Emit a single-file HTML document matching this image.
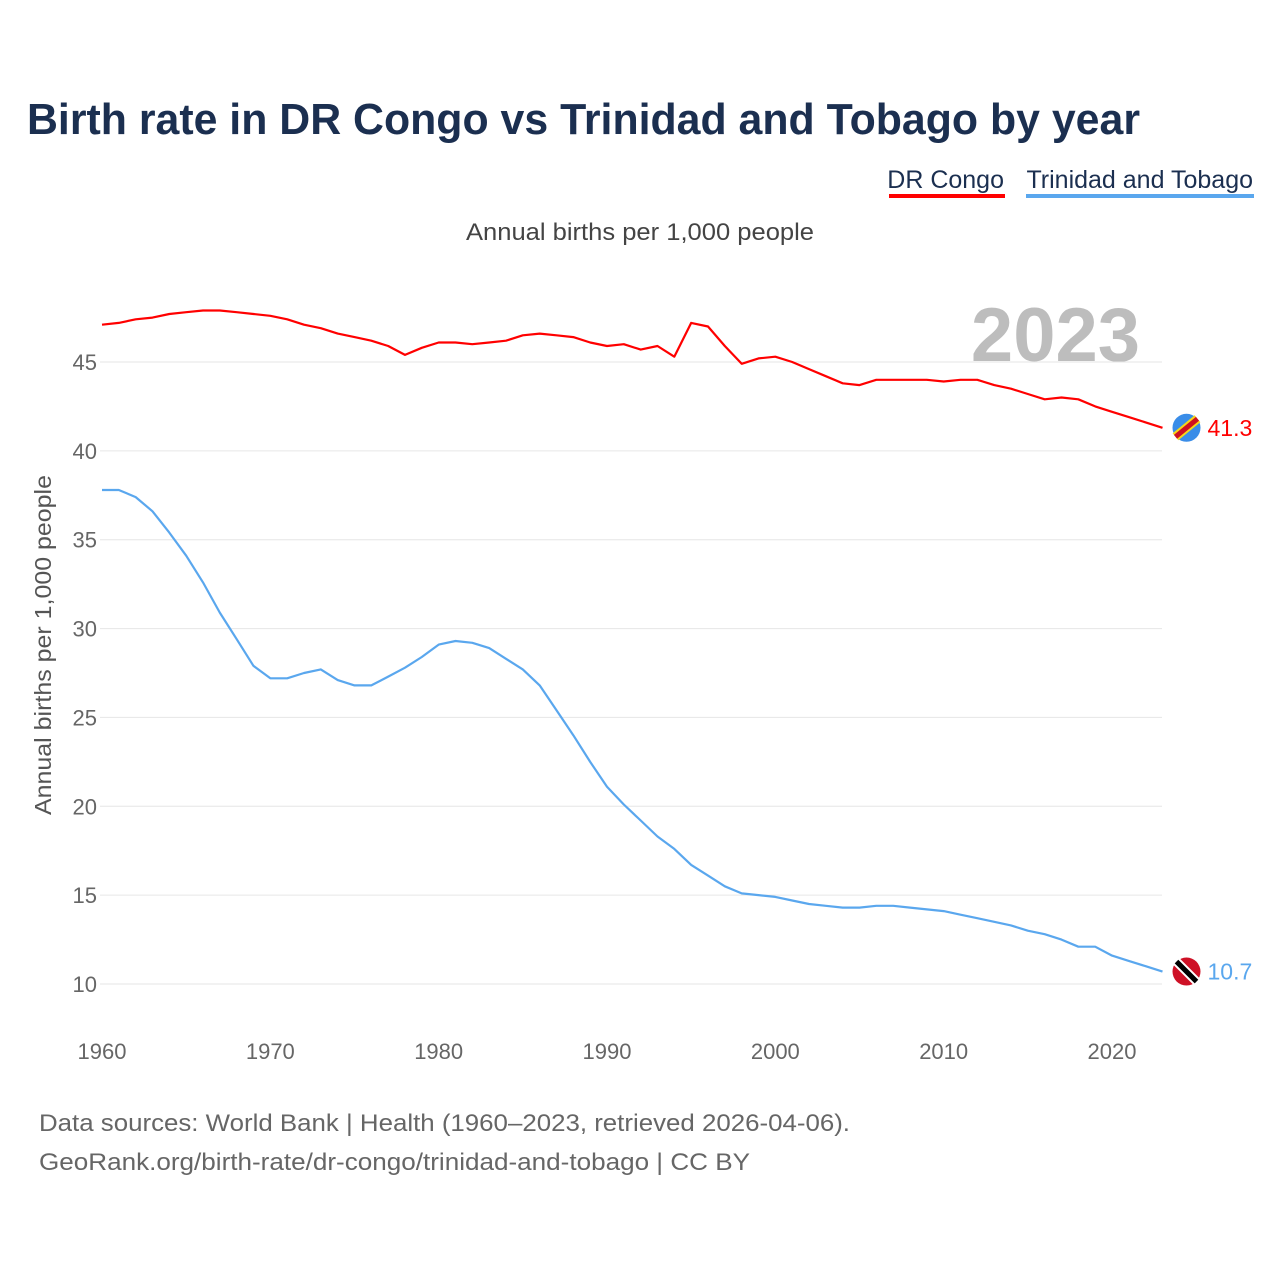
<!DOCTYPE html>
<html><head><meta charset="utf-8">
<style>
body{margin:0;background:#fff;font-family:"Liberation Sans",sans-serif;}
#wrap{position:relative;width:1280px;height:1280px;overflow:hidden;}
svg text{font-family:"Liberation Sans",sans-serif;}
</style></head>
<body>
<div id="wrap">
<svg id="chart" width="1280" height="1280">
  <text x="27" y="134" font-size="44" font-weight="bold" fill="#1b2f50" textLength="1113" lengthAdjust="spacingAndGlyphs">Birth rate in DR Congo vs Trinidad and Tobago by year</text>
  <g>
    <text x="1004" y="188" font-size="25" fill="#1b2f50" text-anchor="end">DR Congo</text>
    <rect x="889" y="194" width="116" height="4" fill="#ff0000"/>
  </g>
  <g>
    <text x="1253" y="188" font-size="25" fill="#1b2f50" text-anchor="end">Trinidad and Tobago</text>
    <rect x="1026" y="194" width="228" height="4" fill="#5aa7ee"/>
  </g>
  <text x="466" y="240" font-size="24" fill="#444" textLength="348" lengthAdjust="spacingAndGlyphs">Annual births per 1,000 people</text>
  <text x="1140" y="361" font-size="76" font-weight="bold" fill="#bdbdbd" text-anchor="end">2023</text>
  <text transform="translate(51,815) rotate(-90)" font-size="23" fill="#555" textLength="340" lengthAdjust="spacingAndGlyphs">Annual births per 1,000 people</text>
  <g id="grid"></g><g id="xticks"></g><g id="series"></g>
  <text x="39" y="1131" font-size="24" fill="#666" textLength="811" lengthAdjust="spacingAndGlyphs">Data sources: World Bank | Health (1960–2023, retrieved 2026-04-06).</text>
  <text x="39" y="1170" font-size="24" fill="#666" textLength="711" lengthAdjust="spacingAndGlyphs">GeoRank.org/birth-rate/dr-congo/trinidad-and-tobago | CC BY</text>
</svg>
</div>
<script>
const years=[];for(let y=1960;y<=2023;y++)years.push(y);
const drCongo=[47.1,47.2,47.4,47.5,47.7,47.8,47.9,47.9,47.8,47.7,47.6,47.4,47.1,46.9,46.6,46.4,46.2,45.9,45.4,45.8,46.1,46.1,46.0,46.1,46.2,46.5,46.6,46.5,46.4,46.1,45.9,46.0,45.7,45.9,45.3,47.2,47.0,45.9,44.9,45.2,45.3,45.0,44.6,44.2,43.8,43.7,44.0,44.0,44.0,44.0,43.9,44.0,44.0,43.7,43.5,43.2,42.9,43.0,42.9,42.5,42.2,41.9,41.6,41.3];
const trinidad=[37.8,37.8,37.4,36.6,35.4,34.1,32.6,30.9,29.4,27.9,27.2,27.2,27.5,27.7,27.1,26.8,26.8,27.3,27.8,28.4,29.1,29.3,29.2,28.9,28.3,27.7,26.8,25.4,24.0,22.5,21.1,20.1,19.2,18.3,17.6,16.7,16.1,15.5,15.1,15.0,14.9,14.7,14.5,14.4,14.3,14.3,14.4,14.4,14.3,14.2,14.1,13.9,13.7,13.5,13.3,13.0,12.8,12.5,12.1,12.1,11.6,11.3,11.0,10.7];
const yTicks=[10,15,20,25,30,35,40,45];
const xTicks=[1960,1970,1980,1990,2000,2010,2020];
const NS="http://www.w3.org/2000/svg";
const xS=v=>102+(v-1960)*(1010/60);
const yS=v=>984-(v-10)*(622/35);
function mk(t,a,p){const e=document.createElementNS(NS,t);for(const k in a)e.setAttribute(k,a[k]);p.appendChild(e);return e;}
const grid=document.getElementById('grid');
yTicks.forEach(v=>{
  const l=mk('line',{x1:100,x2:1162,y1:yS(v),y2:yS(v),stroke:'#e6e6e6','stroke-width':1},grid);
  
  
  const t=mk('text',{x:97,y:yS(v)+8,'font-size':22,fill:'#666','text-anchor':'end'},grid);
  t.textContent=v;
  
  
});
const xt=document.getElementById('xticks');
xTicks.forEach(v=>{
  const t=mk('text',{x:xS(v),y:1059,'font-size':22,fill:'#666','text-anchor':'middle'},xt);
  t.textContent=v;
  
  
});
const sg=document.getElementById('series');
function series(vals,color,name,label){
  const d=vals.map((v,i)=>(i?'L':'M')+xS(years[i]).toFixed(1)+','+yS(v).toFixed(1)).join('');
  const p=mk('path',{d:d,fill:'none',stroke:color,'stroke-width':2.2,'stroke-linejoin':'round'},sg);
  
  
  const last=vals[vals.length-1];
  const cx=xS(2023)+24, cy=yS(last);
  const g=mk('g',{},sg);
  
  
  if(name==='dr-congo'){
    mk('circle',{cx:cx,cy:cy,r:14,fill:'#3a8de8'},g);
    mk('line',{x1:cx-11,y1:cy+9,x2:cx+11,y2:cy-9,stroke:'#f7d618','stroke-width':9},g);
    mk('line',{x1:cx-11,y1:cy+9,x2:cx+11,y2:cy-9,stroke:'#ce1021','stroke-width':5},g);
  }else{
    mk('circle',{cx:cx,cy:cy,r:14,fill:'#ce1126'},g);
    mk('line',{x1:cx-10,y1:cy-10,x2:cx+10,y2:cy+10,stroke:'#fff','stroke-width':9},g);
    mk('line',{x1:cx-10,y1:cy-10,x2:cx+10,y2:cy+10,stroke:'#000','stroke-width':5},g);
  }
  const t=mk('text',{x:cx+21,y:cy+8,'font-size':23,fill:color},sg);
  t.textContent=label(last);
  
  
}
series(drCongo,'#ff0000','dr-congo',v=>v.toFixed(1));
series(trinidad,'#5aa7ee','trinidad',v=>v.toFixed(1));
</script>
</body></html>
